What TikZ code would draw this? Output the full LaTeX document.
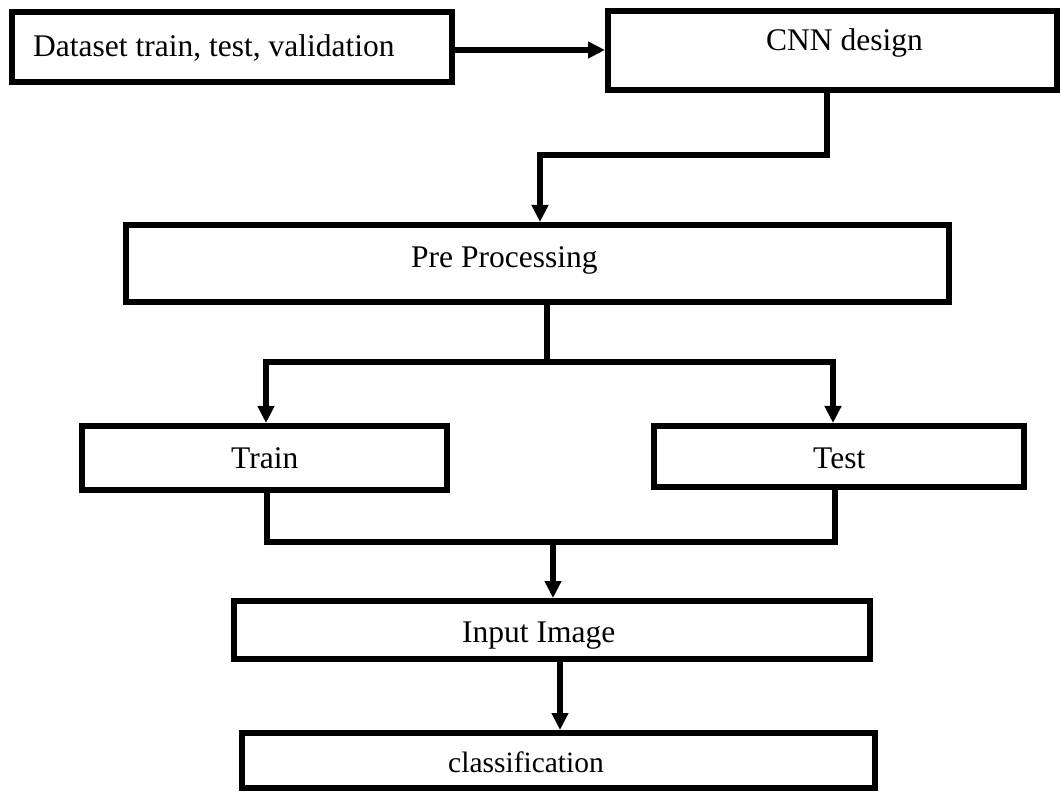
\documentclass[tikz,border=0pt]{standalone}
\usepackage{fontspec}
\setmainfont{Liberation Serif}
\usetikzlibrary{arrows.meta}
\begin{document}
\begin{tikzpicture}[x=1pt,y=-1pt,
  box/.style={draw=black, line width=6pt, rectangle, inner sep=0pt},
  lbl/.style={inner sep=0pt, anchor=base west, font=\fontsize{31.5}{31.5}\selectfont},
  conn/.style={line width=6pt, draw=black},
  arr/.style={conn, -{Triangle[length=17pt,width=16pt]}}]
\useasboundingbox[fill=white] (0,0) rectangle (1061,794);
% boxes
\node[box, minimum width=440pt, minimum height=70pt] (ds) at (232,47) {};
\node[box, minimum width=449pt, minimum height=79pt] (cnn) at (832.5,50.5) {};
\node[box, minimum width=823pt, minimum height=77pt] (pre) at (537.5,263.5) {};
\node[box, minimum width=365pt, minimum height=64pt] (train) at (264.5,458) {};
\node[box, minimum width=370pt, minimum height=61pt] (test) at (839,456.5) {};
\node[box, minimum width=636pt, minimum height=58pt] (inp) at (552,630) {};
\node[box, minimum width=633pt, minimum height=55pt] (cls) at (558.5,760.5) {};
% texts
\node[lbl] (tds) at (33,57) {Dataset train, test, validation};
\node[lbl] (tcnn) at (766,51) {CNN design};
\node[lbl] (tpre) at (411,268) {Pre Processing};
\node[lbl] (ttrain) at (231,468) {Train};
\node[lbl] (ttest) at (813,468) {Test};
\node[lbl] (tinp) at (462,642) {Input Image};
\node[lbl, font=\fontsize{29.5}{29.5}\selectfont] (tcls) at (448,772) {classification};
% junctions
\coordinate (j1) at (540,155);
\coordinate (j2) at (547,362);
\coordinate (j3) at (553,542);
% connectors
\draw[arr] (ds.east |- 0,50) -- (cnn.west |- 0,50);
\draw[arr] (cnn.south -| 827,0) |- (j1) -- (j1 |- pre.north);
\draw[conn] (pre.south -| j2) -- (j2);
\draw[arr] (j2) -| (train.north -| 266,0);
\draw[arr] (j2) -| (test.north -| 833,0);
\draw[conn] (train.south -| 267,0) |- (j3);
\draw[conn] (test.south -| 835,0) |- (j3);
\draw[arr] (j3) -- (j3 |- inp.north);
\draw[arr] (inp.south -| 560,0) -- (cls.north -| 560,0);
\end{tikzpicture}
\end{document}
